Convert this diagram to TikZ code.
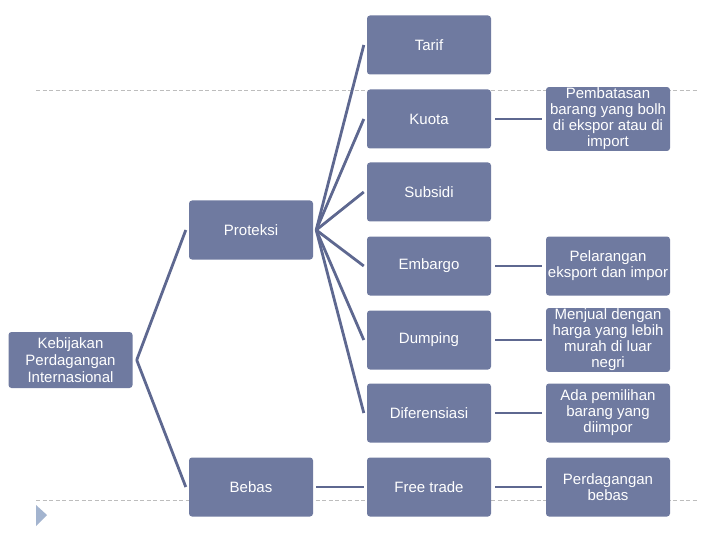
\documentclass[tikz,border=0pt]{standalone}
\usepackage{fontspec}
\setmainfont{Liberation Sans}
\usepackage{xcolor}
\definecolor{boxslate}{HTML}{6F7AA0}
\definecolor{linkslate}{HTML}{5E6890}
\definecolor{rulegray}{HTML}{BDBDBD}
\definecolor{markblue}{HTML}{A3B4CF}
\usetikzlibrary{positioning}
\tikzset{
  topicbox/.style={
    rectangle, rounded corners=3pt, fill=boxslate, draw=none,
    minimum width=124pt, minimum height=59pt, align=center,
    text=white, inner sep=1pt,
    font=\fontsize{15}{16}\selectfont
  },
  link/.style={line width=2.8pt, draw=linkslate},
  ruleline/.style={draw=rulegray, dash pattern=on 4pt off 2.5pt, line width=0.8pt}
}

\begin{document}
\begin{tikzpicture}[x=1pt,y=-1pt]
  \useasboundingbox (0,0) rectangle (720,540);

  % slide template
  \draw[ruleline] (36,90) -- (697,90);
  \draw[ruleline] (36,500) -- (697,500);
  \fill[markblue] (36,505) -- (47,515) -- (36,526) -- cycle;

  % root and branches
  \node[topicbox, minimum height=56pt, font=\fontsize{15}{17}\selectfont] (kebijakan) at (70.5,360) {Kebijakan\\Perdagangan\\Internasional};
  \node[topicbox] (proteksi) at (251,230) {Proteksi};
  \node[topicbox] (bebas) at (251,487) {Bebas};

  % instruments
  \node[topicbox] (tarif) at (429,45) {Tarif};
  \node[topicbox] (kuota) at (429,119) {Kuota};
  \node[topicbox] (subsidi) at (429,192) {Subsidi};
  \node[topicbox] (embargo) at (429,266) {Embargo};
  \node[topicbox] (dumping) at (429,340) {Dumping};
  \node[topicbox] (diferensiasi) at (429,413) {Diferensiasi};
  \node[topicbox] (freetrade) at (429,487) {Free trade};

  % descriptions
  \node[topicbox] (kuotadesc) at (608,119) {Pembatasan\\barang yang bolh\\di ekspor atau di\\import};
  \node[topicbox] (embargodesc) at (608,266) {Pelarangan\\eksport dan impor};
  \node[topicbox] (dumpingdesc) at (608,340) {Menjual dengan\\harga yang lebih\\murah di luar\\negri};
  \node[topicbox] (diferensiasidesc) at (608,413) {Ada pemilihan\\barang yang\\diimpor};
  \node[topicbox] (freetradedesc) at (608,487) {Perdagangan\\bebas};

  \draw[link] ([xshift=4pt]kebijakan.east) -- ([xshift=-3pt]proteksi.west);
  \draw[link] ([xshift=4pt]kebijakan.east) -- ([xshift=-3pt]bebas.west);

  \foreach \child in {tarif,kuota,subsidi,embargo,dumping,diferensiasi}
    \draw[link] ([xshift=3pt]proteksi.east) -- ([xshift=-3pt]\child.west);
  \draw[link] ([xshift=3pt]bebas.east) -- ([xshift=-3pt]freetrade.west);

  \foreach \item in {kuota,embargo,dumping,diferensiasi,freetrade}
    \draw[link] ([xshift=4pt]\item.east) -- ([xshift=-4pt]\item desc.west);
\end{tikzpicture}
\end{document}
